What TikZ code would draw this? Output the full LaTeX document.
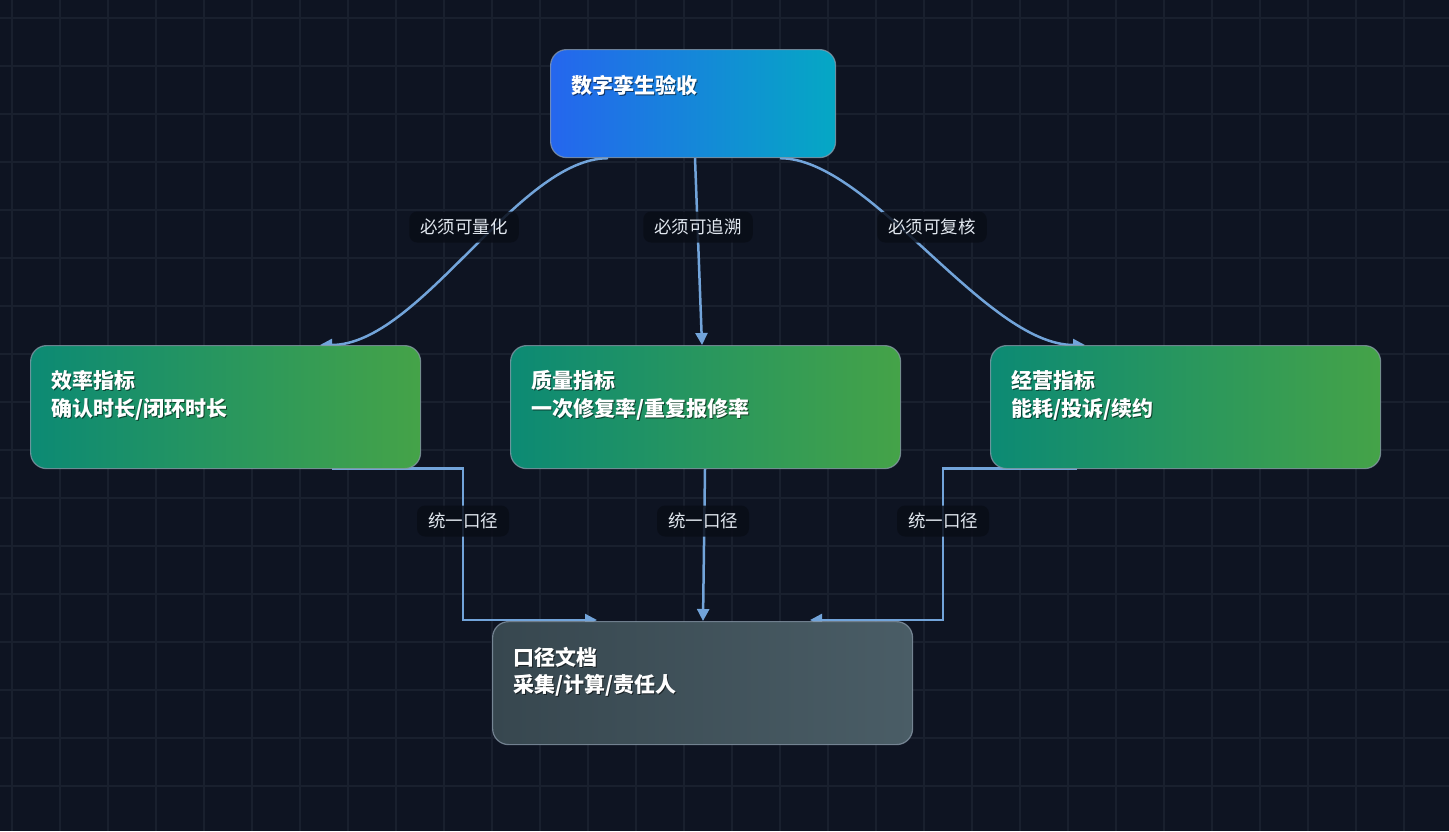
\documentclass[tikz,border=0pt]{standalone}
\usepackage{fontspec}
\newfontfamily\cjk{Noto Sans CJK SC}
\usetikzlibrary{arrows.meta,calc}
\definecolor{bgc}{HTML}{0E1422}
\definecolor{gridc}{HTML}{19202E}
\definecolor{edgec}{HTML}{72A4DA}
\definecolor{bordc}{HTML}{8A9AAA}
\definecolor{topL}{HTML}{2566EE}
\definecolor{topR}{HTML}{05A8C4}
\definecolor{grnL}{HTML}{0C8A74}
\definecolor{grnR}{HTML}{45A348}
\definecolor{docL}{HTML}{37474F}
\definecolor{docR}{HTML}{4A5D66}
\definecolor{lblbg}{HTML}{090D17}
\definecolor{lbltxt}{HTML}{E2E8F0}
\pgfdeclarelayer{bglayer}
\pgfdeclarelayer{edgelayer}
\pgfdeclarelayer{fglayer}
\pgfsetlayers{bglayer,edgelayer,main,fglayer}
\begin{document}
\begin{tikzpicture}[x=1pt,y=-1pt,
  boxbase/.style={rounded corners=16pt, draw=bordc, draw opacity=0.75, line width=1.2pt,
    anchor=north west, inner sep=0pt, minimum height=123pt, minimum width=390pt},
  topbox/.style={boxbase, left color=topL, right color=topR, minimum width=285pt, minimum height=108pt},
  grnbox/.style={boxbase, left color=grnL, right color=grnR},
  docbox/.style={boxbase, left color=docL, right color=docR, minimum width=420pt},
  titletxt/.style={anchor=base west, inner sep=0pt, text=white, font=\cjk\bfseries\fontsize{21}{24}\selectfont},
  shadowtxt/.style={titletxt, text=black, text opacity=0.55},
  edge/.style={draw=edgec, line width=2.5pt, -{Triangle[length=12pt,width=12pt]}},
  lbl/.style={fill=lblbg, fill opacity=0.85, text opacity=1, text=lbltxt, rounded corners=8pt,
    inner xsep=11pt, inner ysep=0pt, minimum height=31pt, font=\cjk\fontsize{17.5}{20}\selectfont}
]
\useasboundingbox (0,0) rectangle (1449,831);
\begin{pgfonlayer}{bglayer}
  \fill[bgc] (0,0) rectangle (1449,831);
  \foreach \x in {12,60,...,1449} \draw[gridc, line width=1.3pt] (\x,0) -- (\x,831);
  \foreach \y in {18,66,...,831} \draw[gridc, line width=1.3pt] (0,\y) -- (1449,\y);
\end{pgfonlayer}

% boxes
\node[topbox] (top) at (550,49) {};
\node[grnbox] (eff) at (30,345) {};
\node[grnbox] (qual) at (510,345) {};
\node[grnbox] (ops) at (990,345) {};
\node[docbox] (doc) at (492,621) {};

% texts
\node[shadowtxt] at ($(top.north west)+(22.5,45.5)$) {数字孪生验收};
\node[titletxt] (ttop) at ($(top.north west)+(21,44)$) {数字孪生验收};

\node[shadowtxt] at ($(eff.north west)+(22.5,44.5)$) {效率指标};
\node[titletxt] (teff1) at ($(eff.north west)+(21,43)$) {效率指标};
\node[shadowtxt] at ($(eff.north west)+(22.5,72.5)$) {确认时长/闭环时长};
\node[titletxt] (teff2) at ($(eff.north west)+(21,71)$) {确认时长/闭环时长};

\node[shadowtxt] at ($(qual.north west)+(22.5,44.5)$) {质量指标};
\node[titletxt] (tq1) at ($(qual.north west)+(21,43)$) {质量指标};
\node[shadowtxt] at ($(qual.north west)+(22.5,72.5)$) {一次修复率/重复报修率};
\node[titletxt] (tq2) at ($(qual.north west)+(21,71)$) {一次修复率/重复报修率};

\node[shadowtxt] at ($(ops.north west)+(22.5,44.5)$) {经营指标};
\node[titletxt] (to1) at ($(ops.north west)+(21,43)$) {经营指标};
\node[shadowtxt] at ($(ops.north west)+(22.5,72.5)$) {能耗/投诉/续约};
\node[titletxt] (to2) at ($(ops.north west)+(21,71)$) {能耗/投诉/续约};

\node[shadowtxt] at ($(doc.north west)+(22.5,45.5)$) {口径文档};
\node[titletxt] (td1) at ($(doc.north west)+(21,44)$) {口径文档};
\node[shadowtxt] at ($(doc.north west)+(22.5,72.5)$) {采集/计算/责任人};
\node[titletxt] (td2) at ($(doc.north west)+(21,71)$) {采集/计算/责任人};

% edges
\begin{pgfonlayer}{edgelayer}
  \draw[edge] ([xshift=58]top.south west) .. controls +(-90,0) and +(100,0) .. ([xshift=290]eff.north west);
  \draw[edge] ([xshift=145]top.south west) -- ([xshift=192]qual.north west);
  \draw[edge] ([xshift=230]top.south west) .. controls +(90,0) and +(-100,0) .. ([xshift=95]ops.north west);
  \draw[edge] ([xshift=302,yshift=0.5]eff.south west) -- ++(131,0) |- ([xshift=105,yshift=1]doc.north west);
  \draw[edge] ([xshift=195]qual.south west) -- ([xshift=211]doc.north west);
  \draw[edge] ([xshift=87,yshift=0.5]ops.south west) -- ++(-134,0) |- ([xshift=318,yshift=1]doc.north west);
\end{pgfonlayer}

% labels
\begin{pgfonlayer}{fglayer}
  \node[lbl] (l1) at (464,227) {必须可量化};
  \node[lbl] (l2) at (698,227) {必须可追溯};
  \node[lbl] (l3) at (932,227) {必须可复核};
  \node[lbl] (l4) at (463,521) {统一口径};
  \node[lbl] (l5) at (703,521) {统一口径};
  \node[lbl] (l6) at (943,521) {统一口径};
\end{pgfonlayer}
\end{tikzpicture}
\end{document}
